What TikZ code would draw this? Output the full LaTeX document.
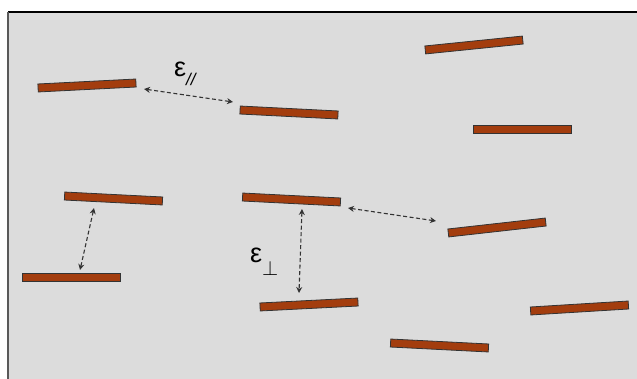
\documentclass[tikz,border=0pt]{standalone}
\usepackage{fontspec}
\setmainfont{Liberation Sans}
\usetikzlibrary{arrows.meta}
\definecolor{rust}{HTML}{A33D0E}
\definecolor{bg}{HTML}{DCDCDC}
\definecolor{gap}{HTML}{333333}

\begin{document}
\begin{tikzpicture}[x=1pt, y=-1pt, >={Stealth[length=6pt,width=6pt]},
  bar/.style={draw=black!80, line width=0.8pt, fill=rust, rectangle, inner sep=0pt,
    minimum width=98pt, minimum height=8pt},
  spacing/.style={<->, dashed, dash pattern=on 4pt off 2.5pt, line width=1.1pt, draw=gap},
  every node/.style={font=\fontsize{27}{29}\selectfont}]
\useasboundingbox (0,0) rectangle (637,379);
% Frame
\fill[bg] (8,12) rectangle (645,390);
\draw[black, line width=1.4pt] (8,12) -- (645,12);
\draw[black!65, line width=2.2pt] (8,12) -- (8,390);

% Bars
\node[bar, rotate=2.9] (b1) at (87,85.5) {};
\node[bar, rotate=-2.9] (b2) at (289,112.5) {};
\node[bar, rotate=5.8] (b3) at (474,45) {};
\node[bar] (b4) at (522.5,129) {};
\node[bar, rotate=-2.9] (b5) at (113.5,198.5) {};
\node[bar] (b6) at (71,277) {};
\node[bar, rotate=-2.9] (b7) at (291.5,199.5) {};
\node[bar, rotate=6.4] (b8) at (497,227.5) {};
\node[bar, rotate=2.9] (b9) at (309,304.5) {};
\node[bar, rotate=3.5] (b10) at (579.5,308) {};
\node[bar, rotate=-2.9] (b11) at (439.5,345.5) {};

% Arrow ends
\coordinate (p1) at (144,89);
\coordinate (q1) at (233,102);
\coordinate (p2) at (348,208);
\coordinate (q2) at (436,221);
\coordinate (p3) at (94,208);
\coordinate (q3) at (80,270);
\coordinate (p4) at (302,209);
\coordinate (q4) at (299,293);

% Spacings
\draw[spacing] (p1) -- (q1);
\draw[spacing] (p2) -- (q2);
\draw[spacing] (p3) -- (q3);
\draw[spacing] (p4) -- (q4);

% Labels
\node[inner sep=0pt, anchor=base west] (epar) at (174,77)
  {ε\raisebox{-0.3em}{\fontsize{17}{17}\selectfont\itshape //}};
\node[inner sep=0pt, anchor=base west] (eperp) at (250,263)
  {ε\raisebox{-0.45em}{\fontsize{20}{20}\selectfont$\perp$}};
\end{tikzpicture}
\end{document}
